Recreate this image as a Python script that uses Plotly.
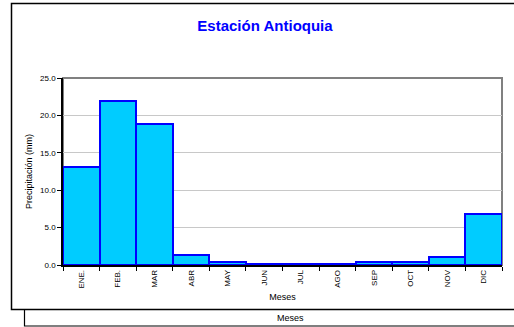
import plotly.graph_objects as go

months = ["ENE.", "FEB.", "MAR", "ABR", "MAY", "JUN", "JUL", "AGO", "SEP", "OCT", "NOV", "DIC"]
precip = [13.1, 21.9, 18.8, 1.4, 0.45, 0.1, 0.1, 0.15, 0.35, 0.45, 1.1, 6.8]
y_ticks = [0, 5, 10, 15, 20, 25]
y_tick_labels = ["0.0", "5.0", "10.0", "15.0", "20.0", "25.0"]

W, H = 514, 327
L, R, T, B = 63, 12, 78, 62
pw, ph = W - L - R, H - T - B

def px(x):
    return (x - L) / pw

def py(y):
    return 1 - (y - T) / ph

font = "Liberation Sans, Arial, sans-serif"

fig = go.Figure(go.Bar(
    x=months, y=precip,
    marker=dict(color="#00CCFF", line=dict(color="#0000FF", width=2)),
))

shapes = [
    dict(type="rect", xref="paper", yref="paper", x0=px(11.5), x1=px(530), y0=py(3.5), y1=py(309.5),
         line=dict(color="#000000", width=1.5), layer="below"),
    dict(type="rect", xref="paper", yref="paper", x0=px(24.5), x1=px(530), y0=py(309.5), y1=py(326),
         line=dict(color="#000000", width=1.2), layer="below"),
    dict(type="rect", xref="paper", yref="paper", x0=0, x1=1, y0=0, y1=1,
         line=dict(color="#808080", width=2), layer="below"),
]

fig.update_layout(
    width=W, height=H,
    margin=dict(l=L, r=R, t=T, b=B),
    paper_bgcolor="white", plot_bgcolor="white",
    bargap=0,
    showlegend=False,
    shapes=shapes,
    title=dict(text="<b>Estación Antioquia</b>", xref="container", x=265 / W, xanchor="center",
               yref="container", y=1 - 26 / H, yanchor="middle",
               font=dict(family=font, size=15, color="#0000FF")),
    annotations=[
        dict(text="Meses", xref="paper", yref="paper", x=px(290), y=py(318),
             showarrow=False, font=dict(family=font, size=9, color="#000000"),
             xanchor="center", yanchor="middle"),
    ],
    font=dict(family=font, size=8, color="#000000"),
)

fig.update_xaxes(
    type="category", tickson="boundaries", ticks="outside", ticklen=4, tickcolor="#000000",
    tickangle=-90, tickfont=dict(family=font, size=8),
    showline=True, linecolor="#000000", linewidth=1.5,
    showgrid=False,
    title=dict(text="Meses", font=dict(family=font, size=9), standoff=6),
)
fig.update_yaxes(
    range=[0, 25], tickvals=y_ticks, ticktext=y_tick_labels,
    ticks="outside", ticklen=4, tickcolor="#000000",
    tickfont=dict(family=font, size=8),
    showline=True, linecolor="#000000", linewidth=1.5,
    showgrid=True, gridcolor="#C8C8C8", gridwidth=1,
    zeroline=False,
    title=dict(text="Precipitación (mm)", font=dict(family=font, size=9), standoff=6),
)

fig.write_html("out.html")
